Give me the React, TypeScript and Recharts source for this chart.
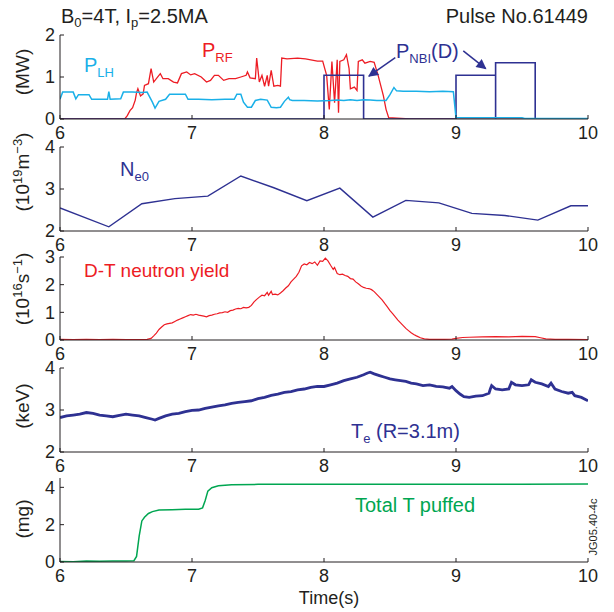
import React from 'react';
import { LineChart, Line, XAxis, YAxis, ReferenceLine } from 'recharts';

// time axis shared by all five panels
const timeTicks = [6, 7, 8, 9, 10];

// panel 1: heating powers (MW), [time, value]
const pLH: [number, number][] = [
  [6.0, 0.47], [6.02, 0.64], [6.1, 0.64], [6.12, 0.48], [6.14, 0.58], [6.16, 0.58], [6.22, 0.58], [6.24, 0.47],
  [6.3, 0.47], [6.36, 0.47], [6.37, 0.65], [6.38, 0.47], [6.46, 0.48], [6.48, 0.64], [6.55, 0.64], [6.62, 0.63],
  [6.66, 0.64], [6.68, 0.52], [6.7, 0.4], [6.72, 0.26], [6.75, 0.42], [6.8, 0.47], [6.83, 0.59], [6.9, 0.59],
  [6.95, 0.59], [6.97, 0.47], [7.05, 0.47], [7.15, 0.46], [7.25, 0.47], [7.32, 0.47], [7.34, 0.59], [7.37, 0.59],
  [7.39, 0.4], [7.42, 0.28], [7.45, 0.28], [7.48, 0.44], [7.52, 0.47], [7.57, 0.45], [7.6, 0.28], [7.64, 0.27],
  [7.67, 0.28], [7.7, 0.42], [7.73, 0.52], [7.74, 0.46], [7.76, 0.44], [7.85, 0.44], [7.95, 0.43], [8.05, 0.44],
  [8.1, 0.45], [8.15, 0.44], [8.2, 0.46], [8.25, 0.44], [8.3, 0.46], [8.35, 0.45], [8.4, 0.44], [8.47, 0.44],
  [8.5, 0.58], [8.53, 0.75], [8.55, 0.67], [8.6, 0.66], [8.7, 0.66], [8.8, 0.65], [8.9, 0.66], [8.98, 0.65],
  [9.0, 0.03], [9.2, 0.03], [9.5, 0.03], [9.52, 0.01], [9.75, 0.01], [10.0, 0.01],
];

const pRF: [number, number][] = [
  [6.0, 0], [6.49, 0], [6.51, 0.08], [6.53, 0.2], [6.55, 0.27], [6.57, 0.45], [6.58, 0.63], [6.59, 0.72],
  [6.61, 0.55], [6.63, 0.6], [6.64, 0.8], [6.67, 0.84], [6.69, 1.2], [6.71, 0.88], [6.73, 0.96], [6.76, 1.08],
  [6.78, 0.96], [6.82, 0.96], [6.86, 0.88], [6.89, 0.86], [6.92, 1.08], [6.96, 1.12], [6.99, 1.05], [7.02, 1.08],
  [7.07, 1.0], [7.11, 0.88], [7.14, 0.92], [7.17, 1.04], [7.2, 1.04], [7.24, 0.92], [7.28, 0.96], [7.33, 0.96],
  [7.37, 1.0], [7.41, 1.04], [7.42, 1.12], [7.44, 0.98], [7.48, 0.96], [7.49, 1.45], [7.51, 0.88], [7.53, 1.04],
  [7.55, 0.78], [7.57, 1.04], [7.58, 0.78], [7.6, 1.16], [7.62, 0.78], [7.65, 0.8], [7.67, 0.78], [7.68, 1.45],
  [7.72, 1.43], [7.8, 1.45], [7.86, 1.43], [7.9, 1.41], [7.95, 1.38], [7.99, 1.38], [8.02, 1.04], [8.04, 0.23],
  [8.06, 1.37], [8.08, 0.39], [8.1, 1.41], [8.11, 0.15], [8.12, 1.37], [8.15, 1.41], [8.17, 1.53], [8.19, 1.2],
  [8.2, 0.72], [8.23, 0.76], [8.25, 0.68], [8.26, 1.37], [8.29, 1.41], [8.31, 1.33], [8.35, 1.37], [8.38, 1.35],
  [8.41, 1.04], [8.45, 0.55], [8.47, 0.23], [8.49, 0.03], [8.55, 0.02], [8.65, 0], [10.0, 0],
];

// NBI boxes; the repeated 9.3 takes the line down to zero between the two last pulses
const pNBI: [number, number][] = [
  [6.0, 0], [8.0, 1.04], [8.3, 0], [9.0, 1.04], [9.3, 0], [9.3, 1.34], [9.6, 0], [10.0, 0],
];

// panel 2: central density (1e19 m^-3)
const ne0: [number, number][] = [
  [6.0, 2.55], [6.37, 2.1], [6.62, 2.65], [6.87, 2.77], [7.12, 2.83], [7.37, 3.31], [7.62, 3.03], [7.87, 2.72],
  [8.12, 3.02], [8.37, 2.33], [8.62, 2.73], [8.87, 2.67], [9.12, 2.42], [9.37, 2.37], [9.62, 2.26], [9.87, 2.6],
  [10.0, 2.6],
];

// panel 3: D-T neutron yield (1e16 /s)
const neutrons: [number, number][] = [
  [6.0, 0.02], [6.1, 0.01], [6.2, 0.02], [6.3, 0.01], [6.4, 0.02], [6.5, 0.01], [6.6, 0.01], [6.66, 0.02],
  [6.69, 0.06], [6.71, 0.15], [6.73, 0.25], [6.75, 0.38], [6.77, 0.47], [6.79, 0.55], [6.81, 0.58], [6.83, 0.6],
  [6.85, 0.62], [6.87, 0.67], [6.89, 0.72], [6.91, 0.76], [6.93, 0.8], [6.95, 0.84], [6.97, 0.88], [6.99, 0.92],
  [7.01, 0.9], [7.03, 0.93], [7.05, 0.9], [7.07, 0.88], [7.09, 0.86], [7.11, 0.84], [7.13, 0.88], [7.15, 0.9],
  [7.17, 0.93], [7.19, 0.95], [7.21, 0.98], [7.23, 0.99], [7.25, 1.02], [7.27, 1.0], [7.29, 1.06], [7.31, 1.08],
  [7.33, 1.12], [7.35, 1.14], [7.37, 1.13], [7.39, 1.18], [7.41, 1.16], [7.43, 1.18], [7.45, 1.25], [7.47, 1.38],
  [7.49, 1.47], [7.51, 1.55], [7.53, 1.62], [7.55, 1.6], [7.57, 1.72], [7.58, 1.62], [7.6, 1.76], [7.61, 1.64],
  [7.63, 1.66], [7.65, 1.63], [7.67, 1.7], [7.69, 1.78], [7.71, 1.88], [7.73, 1.96], [7.75, 2.1], [7.77, 2.2],
  [7.79, 2.3], [7.81, 2.45], [7.83, 2.68], [7.85, 2.75], [7.87, 2.72], [7.89, 2.8], [7.91, 2.76], [7.93, 2.82],
  [7.95, 2.7], [7.97, 2.86], [7.99, 2.84], [8.01, 2.96], [8.03, 2.86], [8.05, 2.7], [8.07, 2.55], [8.08, 2.62],
  [8.1, 2.4], [8.12, 2.36], [8.14, 2.38], [8.16, 2.33], [8.18, 2.3], [8.2, 2.22], [8.22, 2.2], [8.24, 2.1],
  [8.26, 2.03], [8.28, 1.95], [8.3, 1.9], [8.32, 1.87], [8.34, 1.86], [8.36, 1.82], [8.38, 1.75], [8.4, 1.65],
  [8.42, 1.55], [8.44, 1.45], [8.46, 1.32], [8.48, 1.2], [8.5, 1.06], [8.52, 0.95], [8.54, 0.84], [8.56, 0.72],
  [8.58, 0.62], [8.6, 0.52], [8.62, 0.42], [8.64, 0.34], [8.66, 0.26], [8.68, 0.2], [8.7, 0.15], [8.73, 0.08],
  [8.76, 0.04], [8.8, 0.02], [8.9, 0.02], [8.97, 0.03], [9.0, 0.06], [9.05, 0.09], [9.1, 0.1], [9.2, 0.11],
  [9.3, 0.12], [9.4, 0.11], [9.5, 0.13], [9.6, 0.12], [9.64, 0.08], [9.68, 0.04], [9.75, 0.02], [9.85, 0.02],
  [10.0, 0.01],
];

// panel 4: electron temperature at R=3.1m (keV)
const te: [number, number][] = [
  [6.0, 2.82], [6.05, 2.86], [6.1, 2.88], [6.15, 2.9], [6.2, 2.94], [6.25, 2.92], [6.3, 2.88], [6.35, 2.86],
  [6.4, 2.84], [6.45, 2.87], [6.5, 2.9], [6.55, 2.88], [6.6, 2.86], [6.65, 2.82], [6.7, 2.78], [6.72, 2.76],
  [6.75, 2.8], [6.8, 2.86], [6.85, 2.9], [6.9, 2.92], [6.95, 2.96], [7.0, 2.99], [7.05, 3.0], [7.1, 3.04],
  [7.15, 3.07], [7.2, 3.1], [7.25, 3.12], [7.3, 3.16], [7.35, 3.18], [7.4, 3.2], [7.45, 3.22], [7.5, 3.27],
  [7.55, 3.3], [7.6, 3.35], [7.65, 3.38], [7.7, 3.42], [7.75, 3.44], [7.8, 3.48], [7.85, 3.5], [7.9, 3.54],
  [7.95, 3.56], [8.0, 3.56], [8.05, 3.6], [8.1, 3.64], [8.15, 3.7], [8.2, 3.74], [8.25, 3.78], [8.3, 3.84],
  [8.33, 3.88], [8.35, 3.9], [8.38, 3.86], [8.42, 3.82], [8.46, 3.78], [8.5, 3.74], [8.54, 3.72], [8.58, 3.7],
  [8.62, 3.68], [8.66, 3.64], [8.7, 3.62], [8.75, 3.58], [8.8, 3.6], [8.85, 3.56], [8.9, 3.55], [8.95, 3.52],
  [8.97, 3.56], [9.0, 3.46], [9.03, 3.38], [9.06, 3.32], [9.1, 3.3], [9.15, 3.33], [9.2, 3.34], [9.25, 3.4],
  [9.26, 3.5], [9.27, 3.58], [9.3, 3.5], [9.35, 3.48], [9.4, 3.5], [9.42, 3.66], [9.45, 3.6], [9.5, 3.58],
  [9.55, 3.6], [9.57, 3.72], [9.6, 3.66], [9.65, 3.62], [9.7, 3.56], [9.72, 3.64], [9.75, 3.5], [9.8, 3.44],
  [9.85, 3.4], [9.88, 3.42], [9.9, 3.34], [9.95, 3.3], [10.0, 3.22],
];

// panel 5: total tritium puffed (mg)
const tPuffed: [number, number][] = [
  [6.0, 0.03], [6.1, 0.02], [6.2, 0.05], [6.3, 0.04], [6.4, 0.06], [6.5, 0.06], [6.56, 0.07], [6.58, 0.3],
  [6.6, 1.4], [6.62, 2.2], [6.64, 2.4], [6.67, 2.6], [6.7, 2.7], [6.75, 2.78], [6.85, 2.8], [6.95, 2.82],
  [7.05, 2.83], [7.08, 2.9], [7.1, 3.3], [7.12, 3.8], [7.15, 3.98], [7.2, 4.08], [7.3, 4.14], [7.5, 4.16],
  [7.7, 4.17], [8.0, 4.16], [8.5, 4.17], [9.0, 4.16], [9.5, 4.17], [10.0, 4.18],
];

const rows = (pts: [number, number][]) => pts.map(([t, v]) => ({ t, v }));

const FONT = '"Liberation Sans", Arial, Helvetica, sans-serif';
const INK = '#231f20';
const RED = '#ed1c24';
const CYAN = '#1ab0e8';
const NAVY = '#2e3192';
const GREEN = '#00a651';

function Panel({ top, plotH, yDomain, yTicks, children }: any) {
  const tick = { fontSize: 18, fill: INK, fontFamily: FONT };
  return (
    <div style={{ position: 'absolute', left: 0, top: top - 10 }}>
      <LineChart width={614} height={plotH + 40} margin={{ top: 10, right: 26, bottom: 0, left: 0 }}>
        <XAxis dataKey="t" type="number" domain={[6, 10]} ticks={timeTicks} interval={0} allowDataOverflow
          height={30} tickSize={-4} tickMargin={11} tick={tick} stroke={INK} />
        <XAxis xAxisId="top" orientation="top" type="number" domain={[6, 10]} height={0}
          tick={false} tickLine={false} stroke={INK} />
        <YAxis type="number" domain={yDomain} ticks={yTicks} interval={0} allowDataOverflow
          width={60} tickSize={-4} tickMargin={9} tick={tick} stroke={INK} />
        <YAxis yAxisId="r" orientation="right" type="number" domain={yDomain} width={0}
          tick={false} tickLine={false} stroke={INK} />
        {children}
      </LineChart>
    </div>
  );
}

export default function App() {
  const lineProps = { dataKey: 'v', dot: false, isAnimationActive: false, type: 'linear' as const };
  return (
    <div style={{ position: 'absolute', left: 0, top: 0, width: 614, height: 612, background: '#fff', fontFamily: FONT }}>
      <Panel top={35} plotH={84} yDomain={[0, 2]} yTicks={[0, 1, 2]}>
        <Line {...lineProps} data={rows(pRF)} stroke={RED} strokeWidth={1.3} />
        <Line {...lineProps} data={rows(pNBI)} type="stepAfter" stroke={NAVY} strokeWidth={1.6} />
        <Line {...lineProps} data={rows(pLH)} stroke={CYAN} strokeWidth={1.5} />
        <ReferenceLine segment={[{ x: 8.54, y: 1.46 }, { x: 8.34, y: 1.02 }]} stroke={NAVY} strokeWidth={1.5}
          ifOverflow="visible" markerEnd="url(#navyArrow)" />
        <ReferenceLine segment={[{ x: 9.055, y: 1.62 }, { x: 9.225, y: 1.2 }]} stroke={NAVY} strokeWidth={1.5}
          ifOverflow="visible" markerEnd="url(#navyArrow)" />
      </Panel>
      <Panel top={147} plotH={84} yDomain={[2, 4]} yTicks={[2, 3, 4]}>
        <Line {...lineProps} data={rows(ne0)} stroke={NAVY} strokeWidth={1.4} />
      </Panel>
      <Panel top={257} plotH={83} yDomain={[0, 3]} yTicks={[0, 1, 2, 3]}>
        <Line {...lineProps} data={rows(neutrons)} stroke={RED} strokeWidth={1.2} />
      </Panel>
      <Panel top={368} plotH={84} yDomain={[2, 4]} yTicks={[2, 3, 4]}>
        <Line {...lineProps} data={rows(te)} stroke={NAVY} strokeWidth={2.8} />
      </Panel>
      <Panel top={478} plotH={84} yDomain={[0, 4.5]} yTicks={[0, 2, 4]}>
        <Line {...lineProps} data={rows(tPuffed)} stroke={GREEN} strokeWidth={1.5} />
      </Panel>

      <svg width={614} height={612} style={{ position: 'absolute', left: 0, top: 0, pointerEvents: 'none' }}
        fontFamily={FONT}>
        <defs>
          <marker id="navyArrow" viewBox="0 0 10 10" refX="9" refY="5" markerWidth="13" markerHeight="10"
            markerUnits="userSpaceOnUse" orient="auto">
            <path d="M0,0 L10,5 L0,10 z" fill={NAVY} />
          </marker>
        </defs>

        <text x={61} y={23} fontSize={20} fill={INK}>
          B<tspan fontSize={13} dy={4}>0</tspan><tspan dy={-4}>=4T, I</tspan>
          <tspan fontSize={13} dy={4}>p</tspan><tspan dy={-4}>=2.5MA</tspan>
        </text>
        <text x={588} y={23} fontSize={20} fill={INK} textAnchor="end">Pulse No.61449</text>

        {/* y-axis titles */}
        <text transform="translate(29,72) rotate(-90)" fontSize={19} fill={INK} textAnchor="middle">(MW)</text>
        <text transform="translate(29,172) rotate(-90)" fontSize={19} fill={INK} textAnchor="middle">
          (10<tspan fontSize={13} dy={-7}>19</tspan><tspan dy={7}>m</tspan>
          <tspan fontSize={13} dy={-7}>−3</tspan><tspan dy={7}>)</tspan>
        </text>
        <text transform="translate(29,289) rotate(-90)" fontSize={19} fill={INK} textAnchor="middle">
          (10<tspan fontSize={13} dy={-7}>16</tspan><tspan dy={7}>s</tspan>
          <tspan fontSize={13} dy={-7}>−1</tspan><tspan dy={7}>)</tspan>
        </text>
        <text transform="translate(29,406) rotate(-90)" fontSize={19} fill={INK} textAnchor="middle">(keV)</text>
        <text transform="translate(29,519) rotate(-90)" fontSize={19} fill={INK} textAnchor="middle">(mg)</text>
        <text x={329} y={604} fontSize={18} fill={INK} textAnchor="middle">Time(s)</text>
        <text transform="translate(597,527) rotate(-90)" fontSize={11} fill={INK} textAnchor="middle">JG05.40-4c</text>

        {/* series labels */}
        <text x={84} y={72} fontSize={20} fill={CYAN}>P<tspan fontSize={13} dy={5}>LH</tspan></text>
        <text x={202} y={57} fontSize={20} fill={RED}>P<tspan fontSize={13} dy={5}>RF</tspan></text>
        <text x={396} y={58} fontSize={20} fill={NAVY}>
          P<tspan fontSize={13} dy={5}>NBI</tspan><tspan dy={-5}>(D)</tspan>
        </text>
        <text x={120} y={176} fontSize={20} fill={NAVY}>N<tspan fontSize={13} dy={5}>e0</tspan></text>
        <text x={84} y={277} fontSize={19} fill={RED}>D-T neutron yield</text>
        <text x={351} y={438} fontSize={20} fill={NAVY}>
          T<tspan fontSize={13} dy={5}>e</tspan><tspan dy={-5}> (R=3.1m)</tspan>
        </text>
        <text x={355} y={512} fontSize={20} fill={GREEN}>Total T puffed</text>
      </svg>
    </div>
  );
}
